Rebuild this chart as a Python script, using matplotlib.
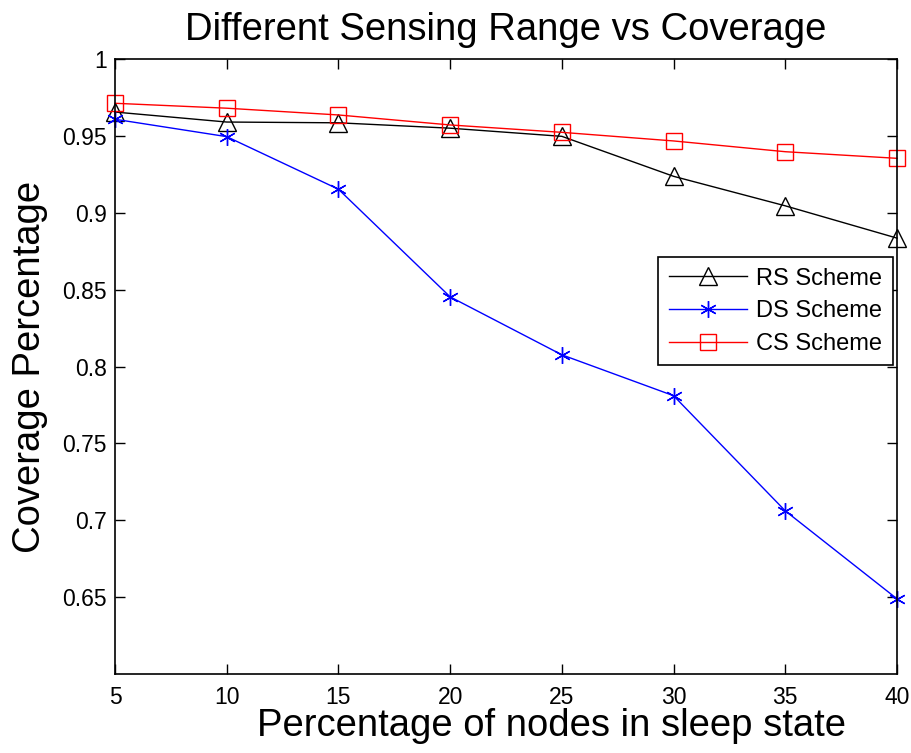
import matplotlib
matplotlib.use("Agg")
import matplotlib.pyplot as plt
from matplotlib.lines import Line2D

x = [5, 10, 15, 20, 25, 30, 35, 40]
rs = [0.9655, 0.9590, 0.9585, 0.9550, 0.9497, 0.9237, 0.9045, 0.8835]
ds = [0.9608, 0.9495, 0.9153, 0.8453, 0.8076, 0.7810, 0.7061, 0.6489]
cs = [0.9712, 0.9680, 0.9636, 0.9571, 0.9523, 0.9467, 0.9397, 0.9354]
yticks = [0.65, 0.7, 0.75, 0.8, 0.85, 0.9, 0.95, 1]
ytick_labels = ["0.65", "0.7", "0.75", "0.8", "0.85", "0.9", "0.95", "1"]

plt.rcParams['font.family'] = ['Liberation Sans', 'DejaVu Sans']

fig = plt.figure(figsize=(9.12, 7.53), dpi=100)
ax = fig.add_axes([115/912, 1 - 674/753, (897-115)/912, (674-59)/753])

ax.plot(x, rs, color='black', lw=1, marker='^', ms=13, mfc='none', mec='black', mew=1, clip_on=False)
ax.plot(x, ds, color='blue', lw=1, marker=(6, 2, 0), ms=12, mec='blue', mew=1, clip_on=False)
ax.plot(x, cs, color='red', lw=1, marker='s', ms=11, mfc='none', mec='red', mew=1, clip_on=False)

handles = [
    Line2D([], [], color='black', lw=1, marker='^', ms=13, mfc='none', mec='black'),
    Line2D([], [], color='blue', lw=1, marker=(6, 2, 0), ms=12, mec='blue'),
    Line2D([], [], color='red', lw=1, marker='s', ms=11, mfc='none', mec='red'),
]
leg = ax.legend(handles, ['RS Scheme', 'DS Scheme', 'CS Scheme'], loc='upper right',
                bbox_to_anchor=(893/912, 1 - 257/753), bbox_transform=fig.transFigure,
                fontsize=17, fancybox=False, edgecolor='black', framealpha=1,
                handlelength=3.3, borderpad=0.45, labelspacing=0.45, handletextpad=0.4,
                borderaxespad=0)
leg.get_frame().set_linewidth(1.2)

ax.set_xlim(5, 40)
ax.set_ylim(0.6, 1.0)
ax.set_xticks(x)
ax.set_xticklabels([str(v) for v in x])
ax.set_yticks(yticks)
ax.set_yticklabels(ytick_labels)
ax.tick_params(direction='in', top=True, right=True, labelsize=16.5, length=7, width=1)
ax.tick_params(axis='y', pad=6)
ax.tick_params(axis='x', pad=9)
for s in ax.spines.values():
    s.set_linewidth(1.2)

ax.set_title('Different Sensing Range vs Coverage', fontsize=27.5, pad=14)
ax.set_xlabel('Percentage of nodes in sleep state', fontsize=27.5)
ax.xaxis.set_label_coords(0.558, -0.056)
ax.set_ylabel('Coverage Percentage', fontsize=27.5, labelpad=10)

fig.savefig('out.png', dpi=100)
